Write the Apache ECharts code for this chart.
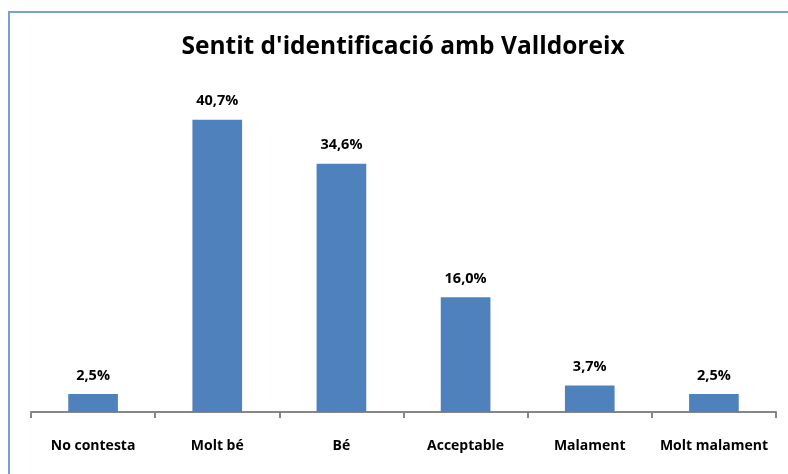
<!DOCTYPE html>
<html>
<head>
<meta charset="utf-8">
<script src="https://cdn.jsdelivr.net/npm/echarts@6/dist/echarts.min.js"></script>
<style>
body { margin: 0; background: #fff; }
#chart { width: 788px; height: 474px; }
</style>
</head>
<body>
<div id="chart"></div>
<script>
var categories = ['No contesta', 'Molt bé', 'Bé', 'Acceptable', 'Malament', 'Molt malament'];
var values = [2.5, 40.7, 34.6, 16.0, 3.7, 2.5];
var titleText = "Sentit d'identificació amb Valldoreix";

var chart = echarts.init(document.getElementById('chart'));

function fmt(v) {
	return v.toFixed(1).replace('.', ',') + '%';
}

var option = {
	animation: false,
	backgroundColor: '#ffffff',
	graphic: [{
		type: 'rect',
		shape: { x: 9, y: 12, width: 900, height: 600 },
		style: { fill: 'none', stroke: '#7A9FD6', lineWidth: 2 },
		silent: true
	}, {
		type: 'text',
		x: 403,
		y: 47,
		style: {
			text: titleText,
			textAlign: 'center',
			textVerticalAlign: 'middle',
			fontFamily: 'Open Sans',
			fontWeight: 'bold',
			fontSize: 24.5,
			fill: '#000'
		},
		silent: true
	}],
	grid: {
		left: 31,
		right: 12,
		top: 89,
		bottom: 62
	},
	xAxis: {
		type: 'category',
		data: categories,
		axisLine: { lineStyle: { color: '#868686', width: 2 } },
		axisTick: { show: true, length: 6, lineStyle: { color: '#868686', width: 2 } },
		axisLabel: {
			interval: 0,
			margin: 27,
			fontFamily: 'Open Sans',
			fontWeight: 'bold',
			fontSize: 14,
			color: '#000'
		}
	},
	yAxis: {
		type: 'value',
		min: 0,
		max: 45,
		show: false
	},
	series: [{
		type: 'bar',
		data: values,
		barWidth: '40%',
		itemStyle: { color: '#4F81BD' },
		label: {
			show: true,
			position: 'top',
			distance: 11,
			formatter: function (p) { return fmt(p.value); },
			fontFamily: 'Open Sans',
			fontWeight: 'bold',
			fontSize: 14.5,
			color: '#000'
		}
	}]
};

chart.setOption(option);
</script>
</body>
</html>
